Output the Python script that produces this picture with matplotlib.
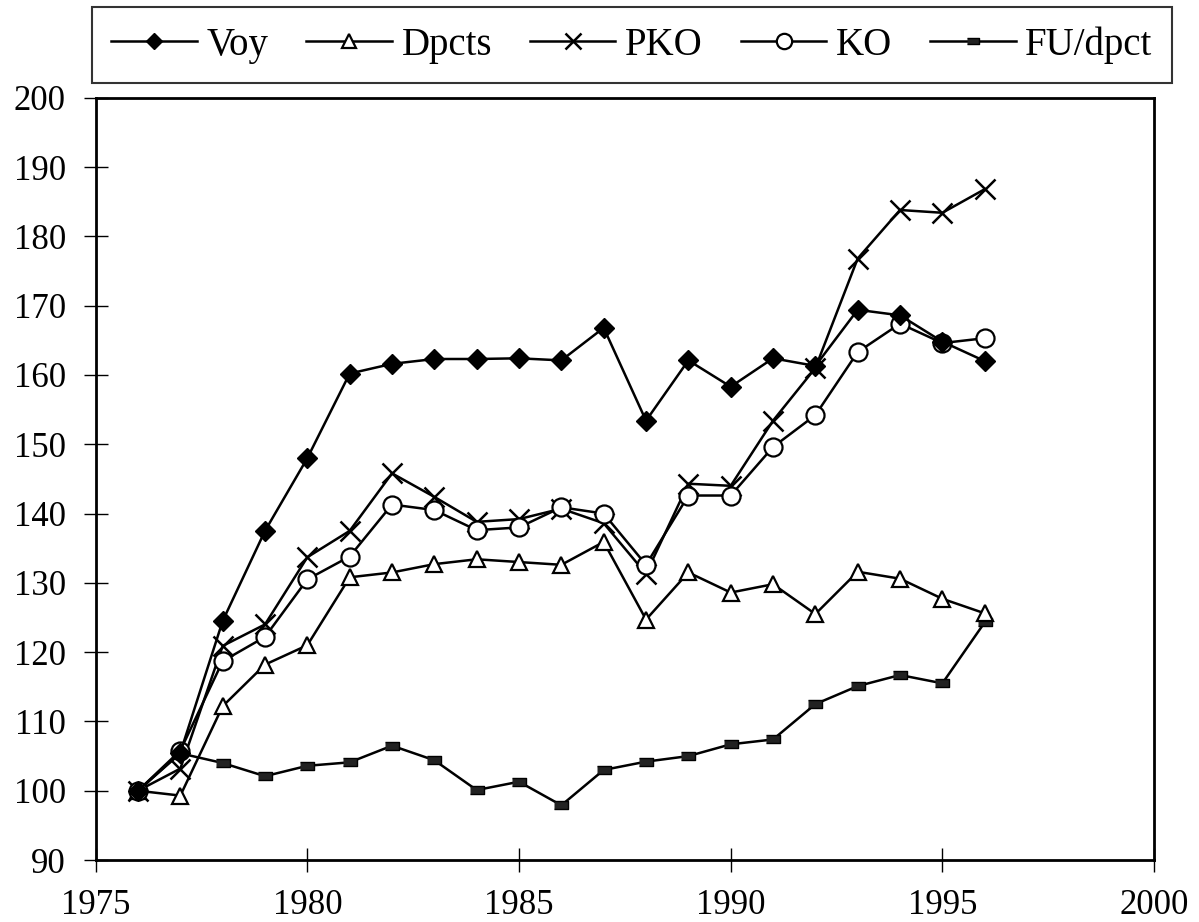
import matplotlib
matplotlib.use("Agg")
import matplotlib.pyplot as plt

years = list(range(1976, 1997))
voy = [100, 105.5, 124.5, 137.5, 148.0, 160.2, 161.6, 162.3, 162.3, 162.4, 162.1,
       166.8, 153.4, 162.1, 158.3, 162.4, 161.3, 169.4, 168.6, 164.8, 162.0]
dpcts = [100, 99.3, 112.2, 118.2, 121.0, 130.8, 131.5, 132.7, 133.4, 133.0, 132.6,
         135.9, 124.7, 131.5, 128.6, 129.8, 125.5, 131.6, 130.6, 127.7, 125.6]
pko = [100, 103.2, 120.9, 124.0, 133.7, 137.5, 145.8, 142.4, 138.8, 139.2, 140.7,
       138.6, 131.3, 144.3, 144.0, 153.4, 161.0, 176.8, 183.8, 183.4, 186.8]
ko = [100, 105.8, 118.7, 122.2, 130.5, 133.8, 141.3, 140.5, 137.6, 138.0, 140.9,
      140.0, 132.6, 142.6, 142.6, 149.6, 154.2, 163.3, 167.4, 164.6, 165.3]
fu = [100, 105.4, 104.0, 102.1, 103.6, 104.1, 106.5, 104.4, 100.1, 101.3, 97.9,
      103.0, 104.2, 105.0, 106.7, 107.4, 112.5, 115.1, 116.7, 115.5, 124.3]

x_ticks = [1975, 1980, 1985, 1990, 1995, 2000]
y_ticks = list(range(90, 201, 10))

plt.rcParams["font.family"] = ["Liberation Serif", "DejaVu Serif"]
plt.rcParams["font.size"] = 25

fig = plt.figure(figsize=(11.99, 9.22), dpi=100)
ax = fig.add_axes([0.0798, 0.0672, 0.8827, 0.8268])

rect = [(-1, -0.55), (1, -0.55), (1, 0.55), (-1, 0.55)]
lw = 1.8
ax.plot(years, fu, color="black", lw=lw, marker=rect, ms=10, mfc="#222222", mec="black", label="FU/dpct", zorder=2)
ax.plot(years, dpcts, color="black", lw=lw, marker="^", ms=12, mfc="white", mec="black", mew=1.6, label="Dpcts", zorder=3)
ax.plot(years, pko, color="black", lw=lw, marker="x", ms=14, mew=1.8, label="PKO", zorder=4)
ax.plot(years, ko, color="black", lw=lw, marker="o", ms=13, mfc="white", mec="black", mew=1.6, label="KO", zorder=5)
ax.plot(years, voy, color="black", lw=lw, marker="D", ms=10, mfc="black", mec="black", label="Voy", zorder=6)

ax.set_xlim(1975, 2000)
ax.set_ylim(90, 200)
ax.set_xticks(x_ticks)
ax.set_yticks(y_ticks)
ax.tick_params(direction="inout", length=17, width=1, labelsize=25)
ax.tick_params(axis="y", pad=13)
ax.tick_params(axis="x", pad=12)
for s in ax.spines.values():
    s.set_linewidth(2)

handles, labels = ax.get_legend_handles_labels()
order = ["Voy", "Dpcts", "PKO", "KO", "FU/dpct"]
hmap = dict(zip(labels, handles))
leg = fig.legend([hmap[k] for k in order], order, ncol=5, loc="lower left",
                 bbox_to_anchor=(92 / 1199, 1 - 83 / 922, 1080 / 1199, 79 / 922),
                 mode="expand", frameon=True, fancybox=False, edgecolor="black",
                 handlelength=2.2, handletextpad=0.25, borderaxespad=0, fontsize=28,
                 borderpad=0.5, markerscale=0.85)
leg.get_frame().set_linewidth(1.5)

fig.savefig("out.png", dpi=100)
